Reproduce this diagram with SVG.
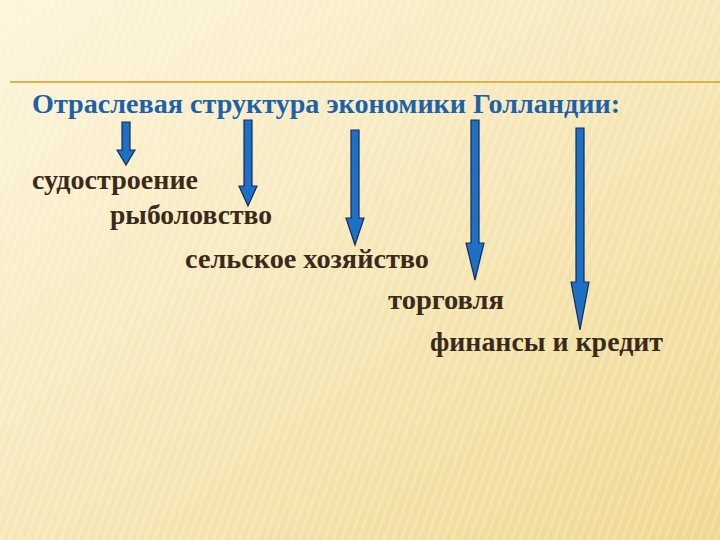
<svg xmlns="http://www.w3.org/2000/svg" width="720" height="540" viewBox="0 0 720 540">
<defs>
<linearGradient id="bg" x1="0" y1="0" x2="1" y2="1">
<stop offset="0" stop-color="#fdf6dc"/><stop offset="0.5" stop-color="#f6e7b8"/><stop offset="1" stop-color="#f0d890"/>
</linearGradient>
<pattern id="st" width="8" height="8" patternUnits="userSpaceOnUse" patternTransform="rotate(20)">
<rect width="3" height="8" fill="#ffffff" opacity="0.18"/>
</pattern>
<style>
.t{font-family:"Liberation Serif",serif;font-weight:bold;font-size:27px;fill:#3a2a1a}
.h{fill:#1d62a8}
.a{fill:#1e6fc6;stroke:#1a2a50;stroke-width:1.2}
</style>
</defs>
<rect width="720" height="540" fill="url(#bg)"/>
<rect width="720" height="540" fill="url(#st)"/>
<line x1="10" y1="82" x2="720" y2="82" stroke="#e2b24a" stroke-width="2"/>
<g id="title"><text class="t h" x="32" y="113" textLength="588" lengthAdjust="spacingAndGlyphs">Отраслевая структура экономики Голландии:</text></g>
<g id="n1"><text class="t" x="32" y="189" textLength="166" lengthAdjust="spacingAndGlyphs">судостроение</text></g>
<g id="n2"><text class="t" x="110" y="224" textLength="162" lengthAdjust="spacingAndGlyphs">рыболовство</text></g>
<g id="n3"><text class="t" x="185" y="268" textLength="244" lengthAdjust="spacingAndGlyphs">сельское хозяйство</text></g>
<g id="n4"><text class="t" x="388" y="309" textLength="116" lengthAdjust="spacingAndGlyphs">торговля</text></g>
<g id="n5"><text class="t" x="430" y="351" textLength="233" lengthAdjust="spacingAndGlyphs">финансы и кредит</text></g>
<g id="connectors">
<path class="a" d="M122,122 H130 V150 H135 L126,165 L117,150 H122 Z"/>
<path class="a" d="M244,120 H252 V186 H257 L248,206 L239,186 H244 Z"/>
<path class="a" d="M351,130 H359 V218 H364 L355,245 L346,218 H351 Z"/>
<path class="a" d="M471,120 H479 V243 H484 L475,280 L466,243 H471 Z"/>
<path class="a" d="M576,128 H584 V282 H589 L580,330 L571,282 H576 Z"/>
</g>
</svg>
